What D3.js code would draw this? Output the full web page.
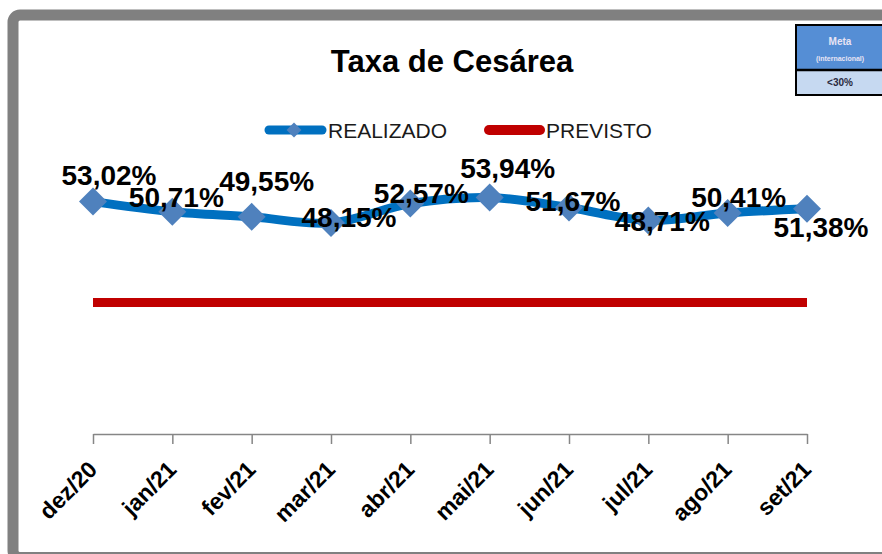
<!DOCTYPE html>
<html>
<head>
<meta charset="utf-8">
<script src="https://cdn.jsdelivr.net/npm/d3@7"></script>
<style>
  body { margin: 0; background: #fff; }
  svg { display: block; font-family: "Liberation Sans", Arial, sans-serif; }
</style>
</head>
<body>
<script>
var width = 882, height = 554;

// data
const months = ["dez/20", "jan/21", "fev/21", "mar/21", "abr/21", "mai/21", "jun/21", "jul/21", "ago/21", "set/21"];
const realizado = [53.02, 50.71, 49.55, 48.15, 52.57, 53.94, 51.67, 48.71, 50.41, 51.38];
const previsto = [30, 30, 30, 30, 30, 30, 30, 30, 30, 30];
const metaLabels = ["Meta", "(internacional)", "<30%"];

// where Excel put each data label, relative to its point (dx, dy of baseline)
const labelOffsets = [[16, -17], [4, -5], [15, -26], [18, 4], [11, -1], [18, -20], [4, 3], [14, 11], [11, -6], [14, 28]];

var margin = {left: 93, right: 75, top: 171, bottom: 120};

var svg = d3.select("body").append("svg")
  .attr("width", width)
  .attr("height", height);

// chart frame (only left/top/bottom edges show)
svg.append("rect")
  .attr("x", 13).attr("y", 15)
  .attr("width", 900).attr("height", 542.5)
  .attr("rx", 7)
  .attr("fill", "#fff")
  .attr("stroke", "#808080")
  .attr("stroke-width", 11);

var x = d3.scalePoint()
  .domain(months)
  .range([margin.left, width - margin.right]);

var y = d3.scaleLinear()
  .domain([0, 60])
  .range([height - margin.bottom, margin.top]);

// title
svg.append("text")
  .attr("x", 452).attr("y", 72)
  .attr("text-anchor", "middle")
  .attr("font-weight", "bold")
  .attr("font-size", 31)
  .attr("fill", "#000")
  .text("Taxa de Cesárea");

// legend
var legend = svg.append("g");
legend.append("line")
  .attr("x1", 269).attr("x2", 322).attr("y1", 130).attr("y2", 130)
  .attr("stroke", "#0070C0").attr("stroke-width", 9).attr("stroke-linecap", "round");
legend.append("path")
  .attr("d", d3.symbol(d3.symbolDiamond2, 140)())
  .attr("transform", "translate(294,130)")
  .attr("fill", "#4F81BD");
legend.append("text")
  .attr("x", 328).attr("y", 138)
  .attr("font-size", 21).attr("fill", "#1a1a1a")
  .text("REALIZADO");
legend.append("line")
  .attr("x1", 489).attr("x2", 540).attr("y1", 130).attr("y2", 130)
  .attr("stroke", "#C00000").attr("stroke-width", 10).attr("stroke-linecap", "round");
legend.append("text")
  .attr("x", 546).attr("y", 138)
  .attr("font-size", 21).attr("fill", "#1a1a1a")
  .text("PREVISTO");

// x axis
var xAxis = svg.append("g")
  .attr("transform", "translate(0," + y(0) + ")")
  .call(d3.axisBottom(x).tickSizeInner(10).tickSizeOuter(0));
xAxis.select(".domain").attr("stroke", "#868686").attr("stroke-width", 1.5);
xAxis.selectAll(".tick line").attr("stroke", "#868686").attr("stroke-width", 1.5);
xAxis.selectAll(".tick text")
  .attr("font-family", "Liberation Sans, Arial, sans-serif")
  .attr("font-weight", "bold")
  .attr("font-size", 23)
  .attr("fill", "#000")
  .attr("text-anchor", "end")
  .attr("dy", null)
  .attr("y", null)
  .attr("transform", "translate(5,37) rotate(-45)");

// previsto line
var line = d3.line()
  .x(function(d, i) { return x(months[i]); })
  .y(function(d) { return y(d); });

svg.append("path")
  .attr("d", line(previsto))
  .attr("fill", "none")
  .attr("stroke", "#C00000")
  .attr("stroke-width", 9);

// realizado line
svg.append("path")
  .attr("d", line.curve(d3.curveCatmullRom)(realizado))
  .attr("fill", "none")
  .attr("stroke", "#0070C0")
  .attr("stroke-width", 9);

svg.selectAll(".pt")
  .data(realizado)
  .enter().append("path")
  .attr("class", "pt")
  .attr("d", d3.symbol(d3.symbolDiamond2, 500)())
  .attr("transform", function(d, i) { return "translate(" + x(months[i]) + "," + y(d) + ")"; })
  .attr("fill", "#4F81BD");

svg.selectAll(".lbl")
  .data(realizado)
  .enter().append("text")
  .attr("class", "lbl")
  .attr("x", function(d, i) { return x(months[i]) + labelOffsets[i][0]; })
  .attr("y", function(d, i) { return y(d) + labelOffsets[i][1]; })
  .attr("text-anchor", "middle")
  .attr("font-weight", "bold")
  .attr("font-size", 28)
  .attr("fill", "#000")
  .text(function(d) { return d.toFixed(2).replace(".", ",") + "%"; });

// meta box (top right)
var meta = svg.append("g");
meta.append("rect")
  .attr("x", 796).attr("y", 25).attr("width", 100).attr("height", 70)
  .attr("fill", "#C6D9F1").attr("stroke", "#000").attr("stroke-width", 2);
meta.append("rect")
  .attr("x", 797).attr("y", 26).attr("width", 100).attr("height", 43)
  .attr("fill", "#558ED5");
meta.append("line")
  .attr("x1", 796).attr("x2", 882).attr("y1", 70).attr("y2", 70)
  .attr("stroke", "#000").attr("stroke-width", 2.5);
meta.append("text")
  .attr("x", 840).attr("y", 45)
  .attr("text-anchor", "middle").attr("font-weight", "bold").attr("font-size", 10)
  .attr("fill", "#E8E4F4").text(metaLabels[0]);
meta.append("text")
  .attr("x", 840).attr("y", 61)
  .attr("text-anchor", "middle").attr("font-weight", "bold").attr("font-size", 7)
  .attr("fill", "#E8E4F4").text(metaLabels[1]);
meta.append("text")
  .attr("x", 840).attr("y", 86)
  .attr("text-anchor", "middle").attr("font-weight", "bold").attr("font-size", 10)
  .attr("fill", "#2a2a40").text(metaLabels[2]);
</script>
</body>
</html>
